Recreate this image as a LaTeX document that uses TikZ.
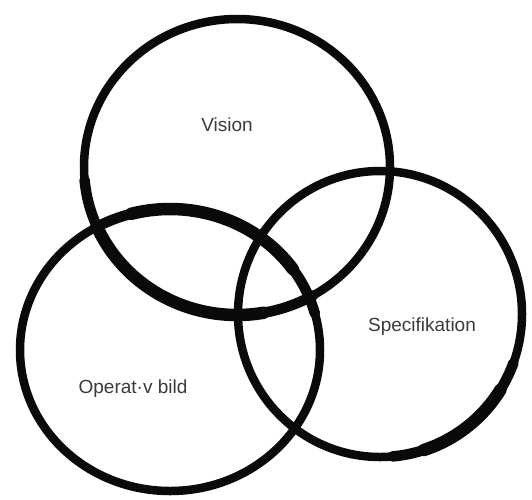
\documentclass[tikz,border=0pt]{standalone}
\usepackage{fontspec}
\setmainfont{Liberation Sans}
\usepackage{tikz}
\definecolor{ink}{HTML}{0A0A0A}
\definecolor{labelgray}{HTML}{3A3A3A}
\tikzset{ring/.style={draw=ink,line width=8.5pt},ringmid/.style={draw=ink,line width=10.5pt,line cap=round},ringheavy/.style={draw=ink,line width=12.5pt,line cap=round},lbl/.style={font=\fontsize{19}{22}\selectfont,text=labelgray,inner sep=0pt}}

\begin{document}
\begin{tikzpicture}[x=1pt,y=-1pt]
\useasboundingbox (0,0) rectangle (532,499);
% three hand drawn rings
\draw[ring] (237,167) ellipse (153 and 148);
\draw[ring] (170,350) ellipse (150 and 141);
\draw[ring] (380,314) ellipse (142 and 143);
% heavier strokes where the pen pressed
\draw[ringmid] (237,167) ++(60:153 and 148) arc (60:175:153 and 148);
\draw[ringheavy] (237,167) ++(80:153 and 148) arc (80:155:153 and 148);
\draw[ringmid] (170,350) ++(240:150 and 141) arc (240:345:150 and 141);
\draw[ringheavy] (170,350) ++(255:150 and 141) arc (255:325:150 and 141);
\draw[ringmid] (380,314) ++(20:142 and 143) arc (20:85:142 and 143);
\draw[ringheavy] (380,314) ++(32:142 and 143) arc (32:72:142 and 143);
\node[lbl] (vision) at (227,125) {Vision};
\node[lbl] (spec) at (422,327) {Specifikation};
\node[lbl] (operativ) at (133,389) {Operat·v bild};
\end{tikzpicture}
\end{document}
